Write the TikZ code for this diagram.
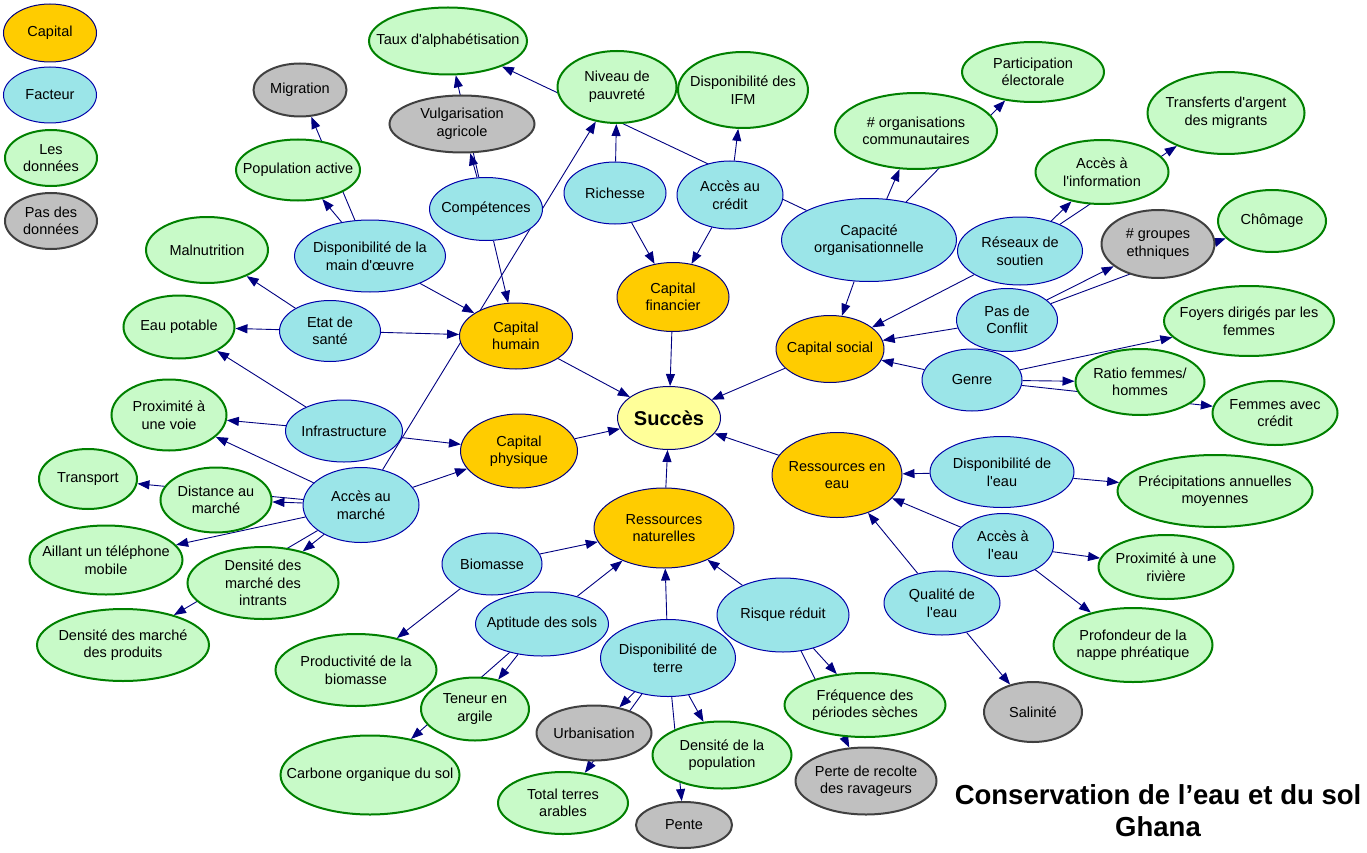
\documentclass[tikz,border=0pt]{standalone}
\usepackage{fontspec}
\defaultfontfeatures[\rmfamily,\sffamily]{}
\setmainfont{Liberation Sans}
\usetikzlibrary{shapes.geometric,arrows.meta,backgrounds}

\definecolor{jaune}{RGB}{255,204,0}
\definecolor{cyan}{RGB}{155,229,232}
\definecolor{vertclair}{RGB}{200,250,200}
\definecolor{vert}{RGB}{0,128,0}
\definecolor{gris}{RGB}{192,192,192}
\definecolor{grisfonce}{RGB}{64,64,64}
\definecolor{marine}{RGB}{0,0,128}
\definecolor{bleu}{RGB}{0,0,170}
\definecolor{jaunepale}{RGB}{255,255,153}

\tikzset{
    noeud/.style={ellipse,inner sep=-40pt,align=center,font=\fontsize{14.5}{17.5}\selectfont},
    sz/.style 2 args={minimum width=#1pt,minimum height=#2pt},
    capital/.style={noeud,fill=jaune,draw=marine,line width=1pt},
    facteur/.style={noeud,fill=cyan,draw=bleu,line width=1pt},
    donnees/.style={noeud,fill=vertclair,draw=vert,line width=2pt},
    sansdonnees/.style={noeud,fill=gris,draw=grisfonce,line width=2pt},
    lien/.style={draw=marine,line width=0.9pt,-{Triangle[length=12pt,width=9pt]}},
}

\begin{document}
\begin{tikzpicture}[x=1pt,y=-1pt]
\useasboundingbox (0,0) rectangle (1367,853);

%key
\node[capital,sz={93}{58}] at (50,33)(cle1){Capital};
\node[facteur,sz={93}{56}] at (50,95)(cle2){Facteur};
\node[donnees,sz={92}{56}] at (51,158)(cle3){Les\\données};
\node[sansdonnees,sz={92}{56}] at (51,221)(cle4){Pas des\\données};

%capital
\node[noeud,fill=jaunepale,draw=marine,line width=1pt,sz={103}{63},font=\bfseries\fontsize{20}{24}\selectfont] at (669,418)(succes){Succès};
\node[capital,sz={113}{66}] at (516,336)(caphum){Capital\\humain};
\node[capital,sz={112}{69}] at (673,297)(capfin){Capital\\financier};
\node[capital,sz={108}{67}] at (830,349)(capsoc){Capital social};
\node[capital,sz={117}{74}] at (519,451)(capphy){Capital\\physique};
\node[capital,sz={130}{85}] at (837,475)(eau){Ressources en\\eau};
\node[capital,sz={140}{80}] at (664,528)(natur){Ressources\\naturelles};

%humain
\node[facteur,sz={151}{72}] at (370,256)(dmo){Disponibilité de la\\main d'œuvre};
\node[facteur,sz={113}{63}] at (486,209)(comp){Compétences};
\node[facteur,sz={101}{61}] at (330,331)(sante){Etat de\\santé};
\node[donnees,sz={124}{61}] at (298,170)(popact){Population active};
\node[sansdonnees,sz={93}{53}] at (300,90)(migr){Migration};
\node[sansdonnees,sz={145}{57}] at (462,124)(vulg){Vulgarisation\\agricole};
\node[donnees,sz={158}{67}] at (448,41)(alpha){Taux d'alphabétisation};
\node[donnees,sz={122}{66}] at (207,250)(maln){Malnutrition};
\node[donnees,sz={111}{63}] at (179,327)(eaupot){Eau potable};

%physique
\node[facteur,sz={117}{62}] at (344,431)(infra){Infrastructure};
\node[facteur,sz={116}{75}] at (361,505)(marche){Accès au\\marché};
\node[donnees,sz={115}{71}] at (169,415)(voie){Proximité à\\une voie};
\node[donnees,sz={98}{60}] at (88,479)(transp){Transport};
\node[donnees,sz={111}{65}] at (216,500)(dist){Distance au\\marché};
\node[donnees,sz={153}{69}] at (106,560)(tel){Aillant un téléphone\\mobile};
\node[donnees,sz={151}{72}] at (263,583)(intr){Densité des\\marché des\\intrants};
\node[donnees,sz={172}{72}] at (123,645)(prod){Densité des marché\\des produits};

%financier
\node[facteur,sz={102}{62}] at (615,193)(rich){Richesse};
\node[facteur,sz={106}{68}] at (730,195)(credit){Accès au\\crédit};
\node[donnees,sz={119}{72}] at (617,87)(pauv){Niveau de\\pauvreté};
\node[donnees,sz={130}{76}] at (743,90)(ifm){Disponibilité des\\IFM};

%social
\node[facteur,sz={175}{83}] at (869,240)(capaorg){Capacité\\organisationnelle};
\node[facteur,sz={125}{68}] at (1020,251)(reseau){Réseaux de\\soutien};
\node[facteur,sz={101}{63}] at (1007,320)(conflit){Pas de\\Conflit};
\node[facteur,sz={100}{62}] at (972,380)(genre){Genre};
\node[donnees,sz={162}{76}] at (916,131)(orga){\# organisations\\communautaires};
\node[donnees,sz={142}{60}] at (1033,72)(part){Participation\\électorale};
\node[donnees,sz={133}{64}] at (1102,172)(info){Accès à\\l'information};
\node[donnees,sz={157}{82}] at (1226,113)(transf){Transferts d'argent\\des migrants};
\node[sansdonnees,sz={113}{68}] at (1158,244)(ethn){\# groupes\\ethniques};
\node[donnees,sz={108}{62}] at (1272,221)(chom){Chômage};
\node[donnees,sz={170}{70}] at (1249,321)(foyers){Foyers dirigés par les\\femmes};
\node[donnees,sz={129}{66}] at (1140,382)(ratio){Ratio femmes/\\hommes};
\node[donnees,sz={125}{64}] at (1275,413)(femcred){Femmes avec\\crédit};

%eau
\node[facteur,sz={144}{71}] at (1002,472)(dispeau){Disponibilité de\\l'eau};
\node[facteur,sz={101}{63}] at (1003,545)(acceau){Accès à\\l'eau};
\node[facteur,sz={116}{64}] at (942,603)(qualeau){Qualité de\\l'eau};
\node[donnees,sz={195}{72}] at (1215,491)(precip){Précipitations annuelles\\moyennes};
\node[donnees,sz={135}{64}] at (1166,567)(riv){Proximité à une\\rivière};
\node[donnees,sz={159}{74}] at (1133,645)(nappe){Profondeur de la\\nappe phréatique};
\node[sansdonnees,sz={98}{60}] at (1033,712)(salin){Salinité};

%naturelles
\node[facteur,sz={100}{62}] at (492,564)(biom){Biomasse};
\node[facteur,sz={133}{64}] at (542,624)(apt){Aptitude des sols};
\node[facteur,sz={135}{77}] at (668,658)(terre){Disponibilité de\\terre};
\node[facteur,sz={132}{74}] at (783,615)(risque){Risque réduit};
\node[donnees,sz={161}{72}] at (356,670)(produc){Productivité de la\\biomasse};
\node[donnees,sz={108}{63}] at (475,709)(argile){Teneur en\\argile};
\node[donnees,sz={179}{79}] at (370,775)(carbone){Carbone organique du sol};
\node[sansdonnees,sz={115}{55}] at (594,733)(urban){Urbanisation};
\node[donnees,sz={130}{62}] at (563,803)(arable){Total terres\\arables};
\node[donnees,sz={139}{67}] at (722,755)(densp){Densité de la\\population};
\node[sansdonnees,sz={96}{46}] at (684,825)(pente){Pente};
\node[donnees,sz={161}{64}] at (865,705)(freq){Fréquence des\\périodes sèches};
\node[sansdonnees,sz={141}{67}] at (866,781)(perte){Perte de recolte\\des ravageurs};

\node[align=center,font=\bfseries\fontsize{27.5}{32}\selectfont] at (1158,811)(titre){Conservation de l’eau et du sol\\Ghana};

\begin{scope}[on background layer]
\foreach \a/\b in {dmo/popact,dmo/migr,dmo/caphum,comp/vulg,comp/alpha,comp/caphum,sante/maln,sante/eaupot,sante/caphum,
    infra/eaupot,infra/voie,infra/capphy,marche/voie,marche/dist,marche/transp,marche/tel,marche/intr,marche/prod,marche/capphy,marche/pauv,
    rich/pauv,rich/capfin,credit/ifm,credit/capfin,
    capaorg/alpha,capaorg/orga,capaorg/part,capaorg/capsoc,reseau/info,reseau/transf,reseau/capsoc,
    conflit/ethn,conflit/chom,conflit/capsoc,genre/capsoc,genre/foyers,genre/ratio,genre/femcred,
    caphum/succes,capfin/succes,capsoc/succes,capphy/succes,eau/succes,natur/succes,
    dispeau/eau,dispeau/precip,acceau/eau,acceau/riv,acceau/nappe,qualeau/eau,qualeau/salin,
    biom/natur,biom/produc,apt/natur,apt/argile,apt/carbone,terre/natur,terre/urban,terre/arable,terre/densp,terre/pente,
    risque/natur,risque/freq,risque/perte}{
    \draw[lien] (\a) -- (\b);
}
\end{scope}

\end{tikzpicture}
\end{document}
